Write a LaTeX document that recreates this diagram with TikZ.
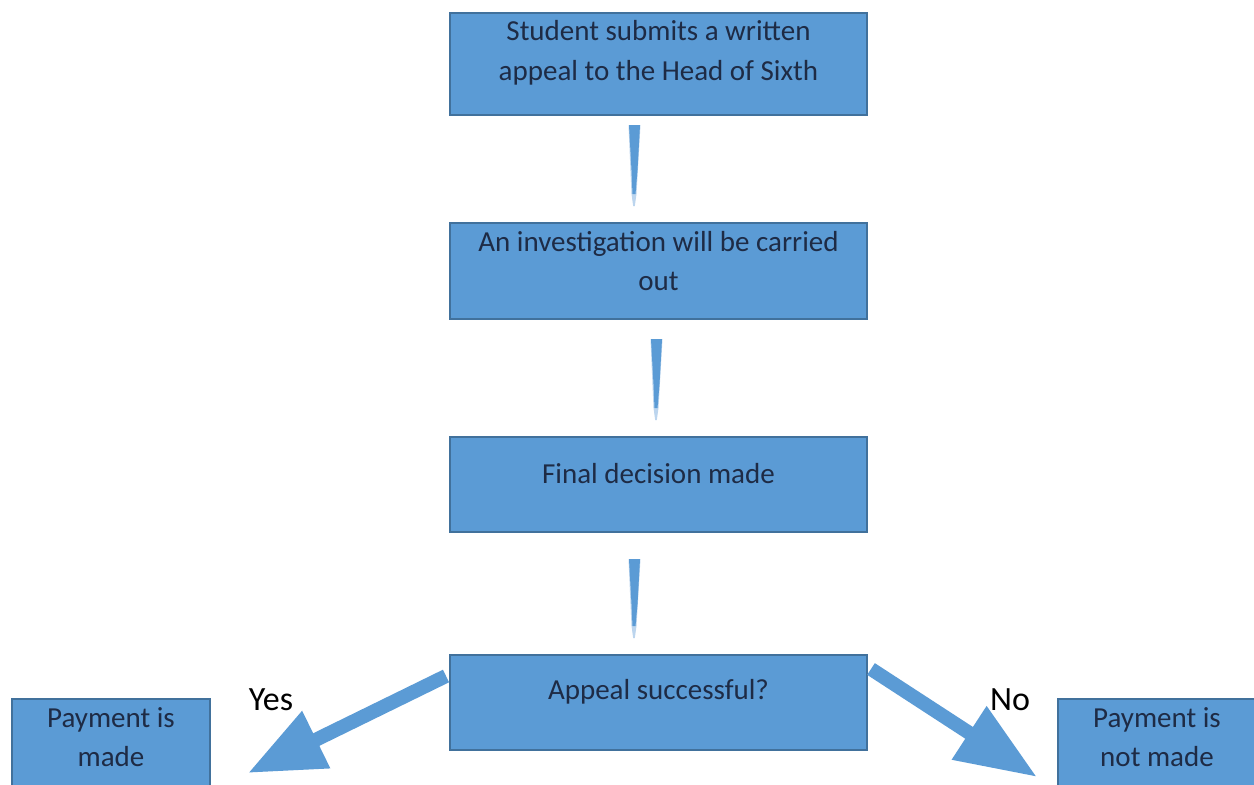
\documentclass[tikz,border=0pt]{standalone}
\usepackage{fontspec}
\setmainfont{Carlito}
\usetikzlibrary{arrows.meta,calc}
\definecolor{boxfill}{HTML}{5B9BD5}
\definecolor{boxline}{HTML}{41719C}
\definecolor{boxtext}{HTML}{1E2B45}
\definecolor{arrfill}{HTML}{5B9BD5}
\definecolor{arrhalo}{HTML}{BCD5EE}
\tikzset{
  box/.style={draw=boxline, fill=boxfill, line width=1.5pt, inner sep=0pt},
  boxtxt/.style={text=boxtext, align=center, inner sep=0pt, font=\fontsize{29}{39.5}\selectfont},
  lbl/.style={text=black, inner sep=0pt, font=\fontsize{34}{40}\selectfont},
  bigarrow/.style={draw=arrfill, line width=14pt, -{Triangle[width=60pt,length=#1]}},
}
\newcommand{\taper}[2]{%
  \fill[arrhalo] ($(#1)+(-6,0)$) -- ($(#1)+(6,0)$) -- ($(#2)+(2.5,-12)$) -- ($(#2)+(0.8,0)$) -- ($(#2)+(-0.8,0)$) -- ($(#2)+(-2.5,-12)$) -- cycle;
  \fill[arrfill] ($(#1)+(-5.5,0)$) -- ($(#1)+(5.5,0)$) -- ($(#1)+(3,45)$) -- ($(#2)+(1.5,-12)$) -- ($(#2)+(-1.5,-12)$) -- ($(#1)+(-3,45)$) -- cycle;
}
\begin{document}
\begin{tikzpicture}[x=1pt,y=-1pt]
\useasboundingbox (0,0) rectangle (1254,785);
\fill[white] (0,0) rectangle (1254,785);

% boxes
\node[box, minimum width=417pt, minimum height=102pt] (b1) at (658.5,64) {};
\node[box, minimum width=417pt, minimum height=96pt] (b2) at (658.5,271) {};
\node[box, minimum width=417pt, minimum height=95pt] (b3) at (658.5,484.5) {};
\node[box, minimum width=417pt, minimum height=95pt] (b4) at (658.5,702.5) {};
\node[box, minimum width=198pt, minimum height=92pt] (bl) at (111,745) {};
\node[box, minimum width=198pt, minimum height=92pt] (br) at (1157,745) {};

% texts
\node[boxtxt] (t1) at (658.5,53) {Student submits a written\\appeal to the Head of Sixth};
\node[boxtxt] (t2) at (658.5,261) {An investigation will be carried\\out};
\node[boxtxt] (t3) at (658.5,474) {Final decision made};
\node[boxtxt] (t4) at (658.5,692) {Appeal successful?};
\node[boxtxt] (tl) at (111,737) {Payment is\\made};
\node[boxtxt] (tr) at (1157,737) {Payment is\\not made};

% labels
\node[lbl] (yes) at (271,700) {Yes};
\node[lbl] (no) at (1010,700) {No};

% vertical tapered arrows
\coordinate (a1s) at (634.5,125);
\coordinate (a1e) at (634,206);
\coordinate (a2s) at (656.5,339);
\coordinate (a2e) at (656,420);
\coordinate (a3s) at (634.5,559);
\coordinate (a3e) at (634,638);
\taper{a1s}{a1e}
\taper{a2s}{a2e}
\taper{a3s}{a3e}

% diagonal block arrows
\coordinate (ls) at (446,676);
\coordinate (lt) at (248,773);
\coordinate (rs) at (871,669);
\coordinate (rt) at (1037,777);
\draw[bigarrow=76pt] (ls) -- (lt);
\draw[bigarrow=81pt] (rs) -- (rt);
\end{tikzpicture}
\end{document}
